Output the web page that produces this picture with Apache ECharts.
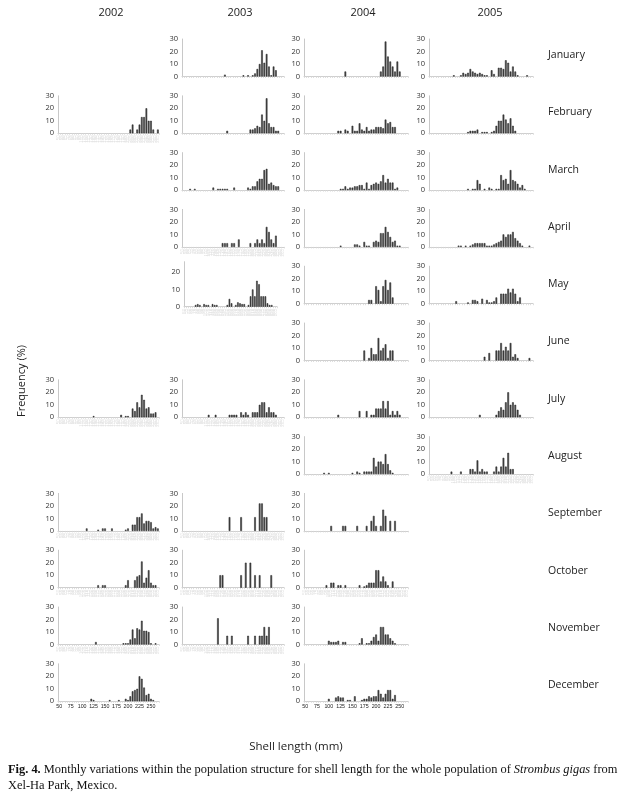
<!DOCTYPE html>
<html><head><meta charset="utf-8">
<script src="https://cdn.jsdelivr.net/npm/echarts@6/dist/echarts.min.js"></script>
<style>html,body{margin:0;padding:0;background:#fff}#c{width:624px;height:796px}</style>
</head><body><div id="c"></div>
<script>
// Shell-length bins (mm)
const bins = [50,55,60,65,70,75,80,85,90,95,100,105,110,115,120,125,130,135,140,145,150,155,160,165,170,175,180,185,190,195,200,205,210,215,220,225,230,235,240,245,250,255,260,265];
const years = ['2002','2003','2004','2005'];
const months = ['January','February','March','April','May','June','July','August','September','October','November','December'];
const yTicks = [0,10,20,30];

// Frequency (%) per bin: [bin, value]
const y2002_feb = [[205,3],[210,7],[220,3],[225,7],[230,13],[235,13],[240,20],[245,10],[250,10],[255,3],[265,3]];
const y2002_jul = [[125,1],[185,2],[195,1],[200,1],[210,7],[215,5],[220,12],[225,8],[230,18],[235,14],[240,7],[245,8],[250,3],[255,3],[260,4]];
const y2002_sep = [[110,2],[135,1],[145,2],[150,2],[165,2],[195,1],[200,2],[210,5],[215,5],[220,11],[225,11],[230,14],[235,6],[240,8],[245,8],[250,7],[255,2],[260,3],[265,2]];
const y2002_oct = [[135,2],[145,2],[150,2],[195,2],[200,6],[215,6],[220,9],[225,10],[230,21],[235,4],[240,8],[245,14],[250,4],[255,2],[260,2]];
const y2002_nov = [[130,2],[190,1],[195,1],[200,1],[205,4],[210,12],[215,5],[220,13],[225,12],[230,19],[235,11],[240,11],[245,10],[250,1],[260,1]];
const y2002_dec = [[120,2],[125,1],[160,1],[180,1],[195,2],[200,1],[205,4],[210,8],[215,9],[220,10],[225,20],[230,18],[235,11],[240,5],[245,6],[250,2],[255,1]];

const y2003_jan = [[140,1.5],[180,1],[190,1],[200,1],[205,2.5],[210,6],[215,10],[220,21],[225,11],[230,18],[235,8],[240,1],[245,8],[250,5]];
const y2003_feb = [[145,2],[195,3],[200,3],[205,4],[210,6],[215,5],[220,15],[225,10],[230,28],[235,8],[240,5],[245,5],[250,2],[255,2]];
const y2003_mar = [[65,1],[75,1],[115,2],[125,1],[130,1],[135,1],[140,1],[145,1],[160,2],[190,2],[195,1],[200,3],[205,3],[210,7],[215,9],[220,9],[225,16],[230,17],[235,5],[240,6],[245,4],[250,3],[255,3]];
const y2003_apr = [[135,3],[140,3],[145,3],[155,3],[160,3],[170,6],[195,3],[205,3],[210,6],[215,3],[220,6],[225,3],[230,16],[235,12],[240,6],[245,3],[250,9]];
const y2003_may = [[75,1],[80,1.5],[85,1],[95,1.5],[100,1],[105,1],[115,1.5],[120,1],[125,1],[150,1],[155,4.5],[160,2],[170,1],[175,2.5],[180,2],[185,1.5],[190,1.5],[200,1],[205,6],[210,10],[215,6],[220,15],[225,13],[230,6],[235,6],[240,6],[245,2],[250,1],[255,1]];
const y2003_jul = [[105,2],[120,2],[150,2],[155,2],[160,2],[165,2],[175,4],[180,2],[185,4],[190,2],[200,4],[205,4],[210,4],[215,10],[220,12],[225,12],[230,4],[235,8],[240,4],[245,4],[250,2]];
const y2003_sep = [[150,11],[175,11],[205,11],[215,22],[220,22],[225,11],[230,11]];
const y2003_oct = [[130,10],[135,10],[175,10],[185,20],[195,20],[205,10],[215,10],[240,10]];
const y2003_nov = [[125,21],[145,7],[155,7],[190,7],[205,7],[215,7],[220,7],[225,14],[230,7],[235,14]];

const y2004_jan = [[135,4],[210,4],[215,8],[220,28],[225,16],[230,12],[235,8],[240,4],[245,12],[250,4]];
const y2004_feb = [[120,2],[125,2],[135,3],[140,2],[150,6],[155,2],[160,2],[165,8],[170,3],[175,2],[180,5],[185,2],[190,3],[195,3],[200,5],[205,5],[210,5],[215,4],[220,11],[225,8],[230,9],[235,5],[240,5]];
const y2004_mar = [[125,1],[130,1],[135,3],[140,1],[145,2],[150,2],[155,3],[160,3],[165,4],[170,4],[175,1],[180,6],[185,1],[190,4],[195,5],[200,6],[205,5],[210,7],[215,12],[220,6],[225,9],[230,6],[235,6],[240,1],[245,2]];
const y2004_apr = [[125,1],[155,2],[160,2],[165,1],[175,4],[180,1],[185,1],[195,4],[200,5],[205,4],[210,11],[215,11],[220,16],[225,12],[230,8],[235,4],[240,5],[245,1],[250,1]];
const y2004_may = [[185,3],[190,3],[200,14],[205,11],[210,2],[215,14],[220,19],[225,11],[230,17],[235,5]];
const y2004_jun = [[175,8],[185,2],[190,10],[195,5],[200,5],[205,18],[210,8],[215,10],[220,13],[225,2],[230,8],[235,8]];
const y2004_jul = [[120,2],[165,5],[180,5],[190,2],[195,2],[200,7],[205,7],[210,7],[215,13],[220,7],[225,13],[230,2],[235,5],[240,2],[245,5],[250,2]];
const y2004_aug = [[90,1],[100,1],[150,1],[160,2],[165,1],[175,2],[180,2],[185,2],[190,2],[195,13],[200,6],[205,10],[210,10],[215,8],[220,16],[225,8],[230,3],[235,1]];
const y2004_sep = [[105,4],[130,4],[135,4],[160,4],[180,4],[190,8],[195,12],[200,4],[210,4],[215,17],[220,12],[230,8],[240,8]];
const y2004_oct = [[95,2],[105,4],[110,4],[120,2],[125,2],[135,2],[165,2],[175,1],[180,2],[185,4],[190,4],[195,4],[200,14],[205,14],[210,5],[215,9],[220,5],[225,2],[235,5]];
const y2004_nov = [[100,3],[105,2],[110,2],[115,2],[120,3],[130,2],[135,2],[165,1],[170,5],[180,1],[185,1],[190,3],[195,6],[200,8],[205,3],[210,14],[215,14],[220,8],[225,8],[230,5],[235,3],[240,1]];
const y2004_dec = [[100,2],[115,3],[120,4],[125,3],[130,3],[140,1],[145,1],[155,4],[170,1],[175,2],[180,2],[185,4],[190,3],[195,4],[200,4],[205,9],[210,6],[215,3],[220,6],[225,9],[230,9],[235,2],[240,5]];

const y2005_jan = [[100,1],[115,1],[120,3],[125,2],[130,3],[135,6],[140,4],[145,3],[150,2],[155,3],[160,2],[165,1],[170,1],[180,5],[185,2],[195,7],[200,7],[205,6],[210,13],[215,11],[220,4],[225,8],[230,4],[235,1],[255,1]];
const y2005_feb = [[130,1],[135,2],[140,2],[145,2],[150,3],[160,1],[165,1],[170,1],[180,1],[185,2],[190,6],[195,10],[200,10],[205,15],[210,11],[215,8],[220,12],[225,6],[230,2]];
const y2005_mar = [[130,1],[140,1],[145,1],[150,8],[155,5],[165,1],[175,2],[180,1],[190,1],[195,1],[200,12],[205,8],[210,9],[215,5],[220,16],[225,8],[230,7],[235,5],[240,2],[245,4],[250,1]];
const y2005_apr = [[110,1],[115,1],[125,1],[135,1],[140,2],[145,3],[150,3],[155,3],[160,3],[165,3],[170,1],[175,1],[180,1],[185,2],[190,3],[195,4],[200,5],[205,10],[210,8],[215,10],[220,10],[225,12],[230,7],[235,5],[240,3],[245,1],[260,1]];
const y2005_may = [[105,2],[130,1],[140,3],[145,3],[150,2],[160,4],[170,3],[175,1],[180,1],[185,2],[190,5],[200,8],[205,8],[210,8],[215,12],[220,9],[225,12],[230,8],[235,2],[240,5]];
const y2005_jun = [[165,3],[175,6],[190,8],[195,8],[200,14],[205,8],[210,11],[215,8],[220,14],[225,3],[230,5],[235,2],[260,2]];
const y2005_jul = [[155,2],[190,2],[195,5],[200,8],[205,6],[210,12],[215,20],[220,10],[225,12],[230,10],[235,6],[240,2]];
const y2005_aug = [[95,2],[115,2],[135,4],[140,4],[145,2],[150,11],[155,2],[160,4],[165,2],[170,2],[185,2],[190,6],[195,2],[200,6],[205,13],[210,6],[215,17],[220,4],[225,4]];

// panel list: [yearIndex, monthIndex, data]
const panels = [
  [0,1,y2002_feb],[0,6,y2002_jul],[0,8,y2002_sep],[0,9,y2002_oct],[0,10,y2002_nov],[0,11,y2002_dec],
  [1,0,y2003_jan],[1,1,y2003_feb],[1,2,y2003_mar],[1,3,y2003_apr],[1,4,y2003_may],[1,6,y2003_jul],[1,8,y2003_sep],[1,9,y2003_oct],[1,10,y2003_nov],
  [2,0,y2004_jan],[2,1,y2004_feb],[2,2,y2004_mar],[2,3,y2004_apr],[2,4,y2004_may],[2,5,y2004_jun],[2,6,y2004_jul],[2,7,y2004_aug],[2,8,y2004_sep],[2,9,y2004_oct],[2,10,y2004_nov],[2,11,y2004_dec],
  [3,0,y2005_jan],[3,1,y2005_feb],[3,2,y2005_mar],[3,3,y2005_apr],[3,4,y2005_may],[3,5,y2005_jun],[3,6,y2005_jul],[3,7,y2005_aug]
];

// ---- layout / styling ----
const colLeft = [58,182,304,429];
const colWidth = [101,102,104,104];
const zero0 = 76.5, rowStep = 56.8, panelH = 37.5;
const bottomPanels = new Set(['0-11','2-11']);
const faintPanels = new Set(['0-1','0-6','0-8','0-9','0-10','1-3','1-4','1-6','1-8','1-9','1-10','2-9','3-7']);
const special = {'1-4': {left:184, width:93, top:261.7, height:45, max:26}};

const grids = [], xAxes = [], yAxes = [], series = [];
panels.forEach((p, i) => {
  const [yi, mi, pairs] = p;
  const key = yi + '-' + mi;
  const zero = zero0 + rowStep * mi;
  const sp = special[key] || {};
  grids.push({
    left: sp.left ?? colLeft[yi],
    width: sp.width ?? colWidth[yi],
    top: sp.top ?? (zero - panelH),
    height: sp.height ?? panelH
  });
  let axisLabel;
  if (bottomPanels.has(key)) {
    axisLabel = {show:true, interval:4, fontSize:5.3, color:'#222', margin:3, fontFamily:'Liberation Sans, Arial, sans-serif'};
  } else if (faintPanels.has(key)) {
    axisLabel = {show:true, interval:0, rotate:90, fontSize:4.5, color:'#e3e3e3', margin:2, fontFamily:'Liberation Sans, sans-serif'};
  } else {
    axisLabel = {show:false};
  }
  xAxes.push({
    type:'category', gridIndex:i, data: bins.map(String),
    axisLine:{show:true, lineStyle:{color:'#cfcfcf', width:1}},
    axisTick:{show:true, interval:0, length:1.5, lineStyle:{color:'#d6d6d6', width:0.8}},
    axisLabel, splitLine:{show:false}
  });
  yAxes.push({
    type:'value', gridIndex:i, min:0, max: sp.max ?? 30, interval:10,
    axisLine:{show:true, lineStyle:{color:'#c8c8c8', width:1}},
    axisTick:{show:false}, splitLine:{show:false},
    axisLabel:{fontSize:7.5, color:'#333', margin:4, fontFamily:'Open Sans, sans-serif', showMaxLabel: sp.max ? false : true}
  });
  const m = new Map(pairs);
  series.push({
    type:'bar', xAxisIndex:i, yAxisIndex:i, silent:true,
    data: bins.map(b => m.has(b) ? m.get(b) : null),
    barWidth:'72%',
    itemStyle:{color:'#4c4c4c', borderColor:'#1c1c1c', borderWidth:0.5}
  });
});

const yearX = [111,240,363,490];
const graphic = [];
years.forEach((y, i) => graphic.push({type:'text', x:yearX[i], y:13, style:{text:y, textAlign:'center', textVerticalAlign:'middle', font:'11px "Open Sans", sans-serif', fill:'#222'}}));
months.forEach((m, i) => graphic.push({type:'text', x:548, y:55 + 57.3*i, style:{text:m, textAlign:'left', textVerticalAlign:'middle', font:'10.5px "Open Sans", sans-serif', fill:'#222'}}));
graphic.push({type:'text', x:22, y:381, rotation:Math.PI/2, style:{text:'Frequency (%)', textAlign:'center', textVerticalAlign:'middle', font:'11px "Open Sans", sans-serif', fill:'#222'}});
graphic.push({type:'text', x:296, y:747, style:{text:'Shell length (mm)', textAlign:'center', textVerticalAlign:'middle', font:'11.5px "Open Sans", sans-serif', fill:'#222'}});
const capFS = 12.4;
graphic.push({type:'text', x:8, y:770, style:{
  text:'{b|Fig. 4.} Monthly variations within the population structure for shell length for the whole population of {i|Strombus gigas} from',
  textAlign:'left', textVerticalAlign:'middle', fontFamily:'Liberation Serif, serif', fontSize:capFS, fill:'#111',
  rich:{b:{fontWeight:'bold', fontFamily:'Liberation Serif, serif', fontSize:capFS, fill:'#111'}, i:{fontStyle:'italic', fontFamily:'Liberation Serif, serif', fontSize:capFS, fill:'#111'}}
}});
graphic.push({type:'text', x:8, y:786, style:{text:'Xel-Ha Park, Mexico.', textAlign:'left', textVerticalAlign:'middle', fontFamily:'Liberation Serif, serif', fontSize:capFS, fill:'#111'}});

const chart = echarts.init(document.getElementById('c'), null, {renderer:'canvas'});
chart.setOption({
  animation:false,
  backgroundColor:'#fff',
  grid: grids, xAxis: xAxes, yAxis: yAxes, series, graphic
});
</script></body></html>
